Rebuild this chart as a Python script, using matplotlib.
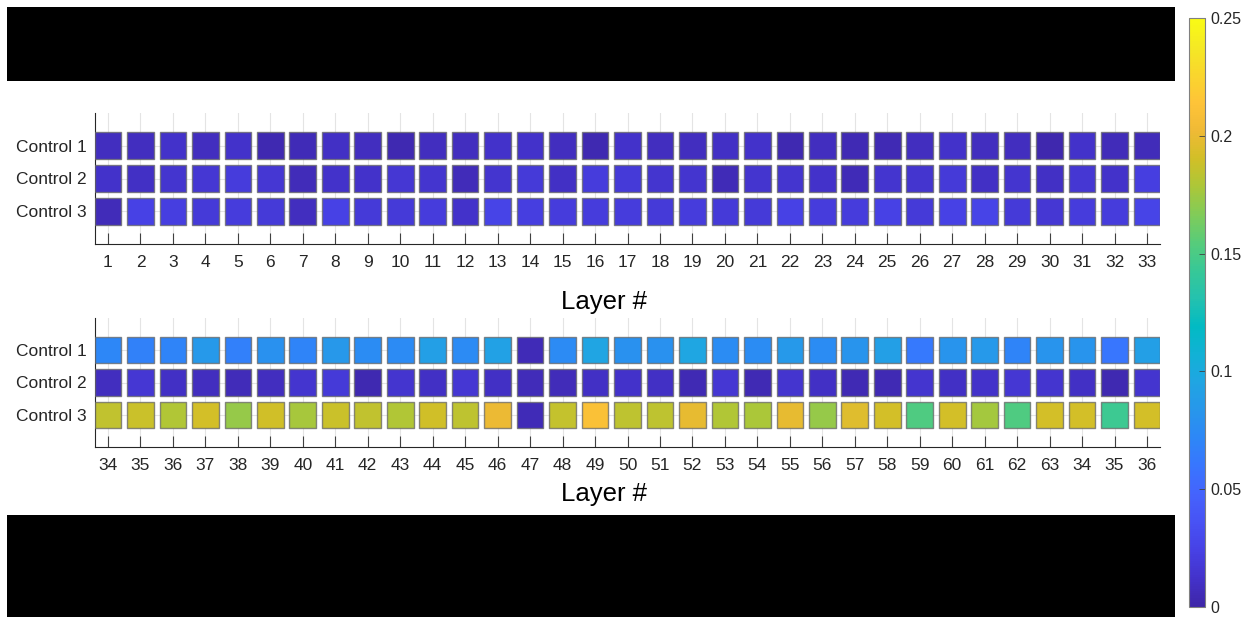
import numpy as np
import matplotlib
matplotlib.use('Agg')
import matplotlib.pyplot as plt
from matplotlib.colors import LinearSegmentedColormap, Normalize
from matplotlib.collections import PatchCollection
from matplotlib.patches import Rectangle

plt.rcParams['font.family'] = ['Liberation Sans', 'DejaVu Sans']

controls = ["Control 1", "Control 2", "Control 3"]
layers_top = [str(i) for i in range(1, 34)]
layers_bottom = [str(i) for i in range(34, 64)] + ["34", "35", "36"]

top_c1 = [0.008, 0.008, 0.012, 0.008, 0.012, 0.003, 0.005, 0.010, 0.008, 0.003, 0.008,
          0.008, 0.012, 0.012, 0.008, 0.003, 0.012, 0.008, 0.008, 0.010, 0.012, 0.003,
          0.008, 0.004, 0.004, 0.008, 0.012, 0.008, 0.008, 0.002, 0.012, 0.006, 0.006]
top_c2 = [0.012, 0.010, 0.014, 0.016, 0.020, 0.016, 0.006, 0.012, 0.012, 0.016, 0.014,
          0.006, 0.014, 0.018, 0.010, 0.020, 0.018, 0.014, 0.014, 0.005, 0.014, 0.014,
          0.012, 0.005, 0.014, 0.014, 0.018, 0.010, 0.014, 0.010, 0.016, 0.012, 0.022]
top_c3 = [0.006, 0.024, 0.022, 0.018, 0.020, 0.018, 0.008, 0.024, 0.018, 0.018, 0.020,
          0.012, 0.026, 0.022, 0.020, 0.020, 0.020, 0.018, 0.020, 0.018, 0.018, 0.024,
          0.020, 0.020, 0.024, 0.018, 0.024, 0.026, 0.018, 0.016, 0.020, 0.020, 0.026]

bot_c1 = [0.072, 0.068, 0.070, 0.085, 0.067, 0.080, 0.070, 0.084, 0.076, 0.075, 0.090,
          0.075, 0.092, 0.005, 0.075, 0.095, 0.080, 0.080, 0.096, 0.076, 0.076, 0.085,
          0.076, 0.082, 0.090, 0.062, 0.082, 0.085, 0.070, 0.082, 0.082, 0.060, 0.090]
bot_c2 = [0.008, 0.016, 0.010, 0.008, 0.006, 0.008, 0.014, 0.018, 0.003, 0.014, 0.010,
          0.016, 0.010, 0.006, 0.006, 0.010, 0.012, 0.010, 0.004, 0.016, 0.004, 0.014,
          0.010, 0.004, 0.004, 0.014, 0.010, 0.012, 0.016, 0.014, 0.010, 0.003, 0.014]
bot_c3 = [0.185, 0.188, 0.180, 0.191, 0.172, 0.190, 0.177, 0.188, 0.185, 0.180, 0.190,
          0.184, 0.201, 0.005, 0.186, 0.210, 0.184, 0.184, 0.199, 0.180, 0.178, 0.199,
          0.172, 0.196, 0.191, 0.152, 0.191, 0.176, 0.152, 0.191, 0.191, 0.145, 0.191]

# MATLAB parula (every 3rd entry of the 64-colour table)
parula_rgb = [
    (0.2422, 0.1504, 0.6603), (0.2647, 0.1978, 0.7952), (0.2783, 0.2559, 0.8991),
    (0.2810, 0.3228, 0.9579), (0.2699, 0.3892, 0.9906), (0.2206, 0.4603, 0.9973),
    (0.1786, 0.5289, 0.9682), (0.1540, 0.5902, 0.9218), (0.1248, 0.6459, 0.8883),
    (0.0689, 0.6948, 0.8394), (0.0067, 0.7312, 0.7660), (0.1408, 0.7584, 0.6842),
    (0.2161, 0.7843, 0.5923), (0.3406, 0.8008, 0.4789), (0.5044, 0.7993, 0.3480),
    (0.6720, 0.7793, 0.2227), (0.8203, 0.7498, 0.1535), (0.9393, 0.7288, 0.2100),
    (0.9970, 0.7659, 0.2199), (0.9786, 0.8386, 0.1766), (0.9597, 0.9135, 0.1423),
    (0.9769, 0.9839, 0.0805)]
parula = LinearSegmentedColormap.from_list("parula", parula_rgb, N=256)
norm = Normalize(vmin=0, vmax=0.25)

TXT = '#262626'
W, H = 1250, 620
fig = plt.figure(figsize=(W / 100, H / 100), dpi=100)


def px(x0, y0, x1, y1):
    # pixel box (top-left origin) -> figure fraction [l, b, w, h]
    return [x0 / W, 1 - y1 / H, (x1 - x0) / W, (y1 - y0) / H]


def panel(rect, rows, ticklabels, label_y):
    ax = fig.add_axes(rect)
    n = len(ticklabels)
    cols = np.arange(1, n + 1)
    sq = 0.82
    patches, vals = [], []
    for r, row in enumerate(rows):
        for c, v in zip(cols, row):
            patches.append(Rectangle((c - sq / 2, r + 1 - sq / 2), sq, sq))
            vals.append(v)
    pc = PatchCollection(patches, cmap=parula, norm=norm, edgecolor=(0.4, 0.4, 0.4, 0.75),
                         linewidth=1.0, zorder=3)
    pc.set_array(np.array(vals))
    ax.add_collection(pc)

    ax.set_xlim(0.6, n + 0.4)
    ax.set_ylim(len(rows) + 1, 0)
    ax.set_xticks(cols)
    ax.set_xticklabels(ticklabels)
    ax.set_yticks(range(1, len(rows) + 1))
    ax.set_yticklabels(controls)
    ax.tick_params(axis='x', direction='in', length=8, width=0.8, color='#404040',
                   labelsize=12.5, labelcolor=TXT, pad=8)
    ax.tick_params(axis='y', direction='in', length=0, labelsize=12.5, labelcolor=TXT, pad=6)
    ax.grid(True, color='#e4e4e4', linewidth=0.8, zorder=0)
    ax.set_axisbelow(True)
    for s in ['top', 'right']:
        ax.spines[s].set_visible(False)
    for s in ['left', 'bottom']:
        ax.spines[s].set_color('#262626')
        ax.spines[s].set_linewidth(0.8)
    ax.set_xlabel("Layer #", fontsize=18.5, color='black', va='center')
    ax.xaxis.set_label_coords(0.478, label_y)
    return ax, pc


# label centre: top panel ~ y=302 px, bottom panel ~ y=494 px
ax1, pc1 = panel(px(95, 113, 1160, 244), [top_c1, top_c2, top_c3], layers_top,
                 -(302 - 244) / 131)
ax2, pc2 = panel(px(95, 318, 1160, 447), [bot_c1, bot_c2, bot_c3], layers_bottom,
                 -(494 - 447) / 129)

# colorbar
cax = fig.add_axes(px(1189, 18, 1205, 607))
cb = fig.colorbar(pc1, cax=cax, ticks=[0, 0.05, 0.1, 0.15, 0.2, 0.25])
cb.ax.set_yticklabels(['0', '0.05', '0.1', '0.15', '0.2', '0.25'])
cb.ax.tick_params(direction='in', length=4, width=0.6, color='#404040',
                  labelsize=11.5, labelcolor=TXT, pad=4)
cb.outline.set_edgecolor('#808080')
cb.outline.set_linewidth(0.8)

# redacted black blocks
fig.add_artist(Rectangle((7 / W, 1 - 81 / H), 1168 / W, 74 / H, transform=fig.transFigure,
                         facecolor='black', edgecolor='none'))
fig.add_artist(Rectangle((7 / W, 1 - 617 / H), 1168 / W, 102 / H, transform=fig.transFigure,
                         facecolor='black', edgecolor='none'))

fig.savefig("out.png", dpi=100)
